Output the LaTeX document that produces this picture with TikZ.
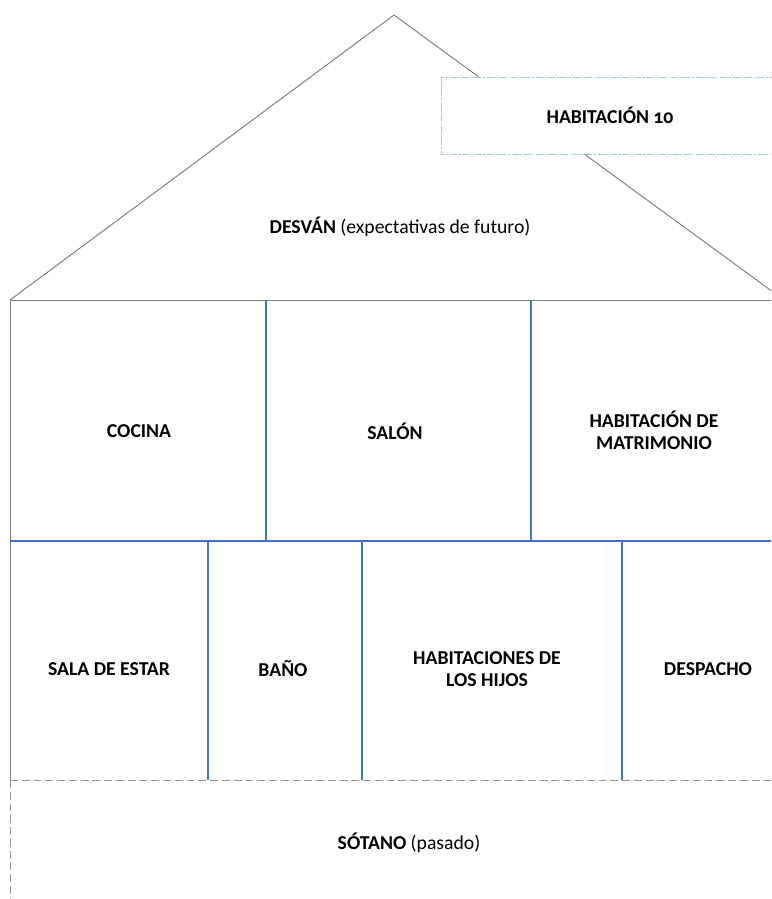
\documentclass[tikz,border=0pt]{standalone}
\usepackage{fontspec}
\setmainfont{Carlito}[Numbers=OldStyle]
\definecolor{wallblue}{HTML}{4472C4}
\definecolor{wallgray}{HTML}{7F7F7F}
\definecolor{futureblue}{HTML}{9DC3E6}

\begin{document}
\begin{tikzpicture}[x=0.02cm,y=-0.02cm]
      \tikzstyle{every node}=[align=center, font=\fontsize{11.2}{12.6}\selectfont]
      \tikzstyle{room}=[font=\fontsize{11.2}{12.6}\selectfont\bfseries]
      \tikzstyle{outer}=[draw=wallgray, line width=0.55pt]
      \tikzstyle{inner}=[draw=wallblue, line width=0.9pt]
      \tikzstyle{past}=[draw=wallgray!85, line width=0.55pt, dash pattern=on 4.5pt off 2.2pt]
      \tikzstyle{future}=[draw=futureblue, line width=0.55pt, dash pattern=on 4pt off 1pt on 1pt off 1pt]
      \useasboundingbox (0,0) rectangle (771,899);
      \clip (0,0) rectangle (771,899);
      % 
      \draw[outer] (10,300) -- (394,15) -- (784,300);
      \draw[outer] (10,300) -- (771,300);
      \draw[outer] (10,300) -- (10,780);
      \draw[future, fill=white] (441,77) rectangle (790,154);
      % 
      \draw[inner] (266,300) -- (266,541);
      \draw[inner] (531,300) -- (531,541);
      \draw[inner] (10,541) -- (771,541);
      \draw[inner] (208,541) -- (208,780);
      \draw[inner] (362,541) -- (362,780);
      \draw[inner] (622,541) -- (622,780);
      % 
      \draw[past] (10,780) -- (771,780);
      \draw[past] (10,780) -- (10,899);
      % 
      \node [room] (hab10)      at (610,115) {HABITACIÓN 10};
      \node        (desvan)     at (400,227) {\textbf{DESVÁN} (expectativas de futuro)};
      \node [room] (cocina)     at (139,431) {COCINA};
      \node [room] (salon)      at (395,431) {SALÓN};
      \node [room] (matrimonio) at (654,430) {HABITACIÓN DE\\MATRIMONIO};
      \node [room] (estar)      at (109,669) {SALA DE ESTAR};
      \node [room] (bano)       at (283,669) {BAÑO};
      \node [room] (hijos)      at (487,669) {HABITACIONES DE\\LOS HIJOS};
      \node [room] (despacho)   at (708,669) {DESPACHO};
      \node        (sotano)     at (409,843) {\textbf{SÓTANO} (pasado)};
\end{tikzpicture}
\end{document}
